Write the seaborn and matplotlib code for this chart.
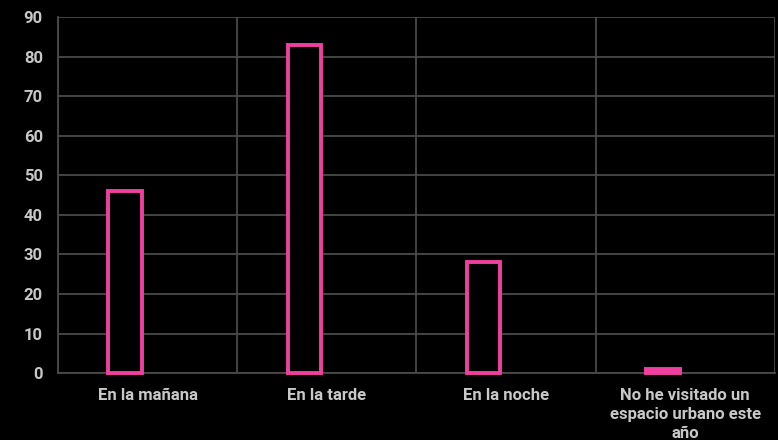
import matplotlib
matplotlib.use("Agg")
import matplotlib.pyplot as plt
import seaborn as sns
import pandas as pd
import numpy as np

categories = ["En la mañana", "En la tarde", "En la noche",
              "No he visitado un\nespacio urbano este\naño"]
values = [46, 83, 28, 1]
series = ["Respuestas", "_vacío"]
yticks = [0, 10, 20, 30, 40, 50, 60, 70, 80, 90]

sns.set_theme(style="dark")
plt.rcParams['font.family'] = ['Roboto', 'DejaVu Sans']

df = pd.DataFrame({
    "cat": categories * 2,
    "val": values + [np.nan] * len(values),
    "serie": [series[0]] * len(values) + [series[1]] * len(values),
})

fig = plt.figure(figsize=(7.78, 4.4), dpi=100, facecolor="black")
ax = fig.add_axes([0.0746, 0.152, 0.9214, 0.809])
ax.set_facecolor("black")

pink = "#f0409f"
sns.barplot(data=df, x="cat", y="val", hue="serie", order=categories,
            hue_order=series, width=0.5, gap=0.25, dodge=True,
            palette=["black", "black"], edgecolor=pink, linewidth=2.8,
            legend=False, ax=ax, errorbar=None)
for p in ax.patches:
    p.set_clip_on(False)
    p.set_zorder(5)
    h = p.get_height()
    if np.isfinite(h) and h < 3:
        p.set_facecolor(pink)

ax.set_ylim(0, 90)
ax.set_xlim(-0.5, len(categories) - 0.5)
ax.set_yticks(yticks)
ax.set_xticks(range(len(categories)))
ax.set_xticks(np.arange(-0.5, len(categories), 1.0), minor=True)
ax.grid(False)
ax.yaxis.grid(True, color="#4a4a4a", linewidth=1.3)
ax.xaxis.grid(True, which="minor", color="#4a4a4a", linewidth=1.3)
ax.set_axisbelow(True)
for s in ["top", "right"]:
    ax.spines[s].set_visible(False)
ax.spines["left"].set_color("#4a4a4a")
ax.spines["bottom"].set_color("#4a4a4a")
ax.spines["left"].set_linewidth(1.3)
ax.spines["bottom"].set_linewidth(1.3)
ax.tick_params(axis="both", which="both", length=0, colors="#c8c8c8",
               labelsize=12)
ax.tick_params(axis="y", pad=11)
ax.tick_params(axis="x", pad=11)
for lab in ax.get_xticklabels() + ax.get_yticklabels():
    lab.set_fontweight("bold")
    lab.set_color("#c8c8c8")
for lab in ax.get_xticklabels():
    lab.set_linespacing(1.3)
ax.set_xlabel("")
ax.set_ylabel("")

fig.savefig("out.png", dpi=100, facecolor="black")
